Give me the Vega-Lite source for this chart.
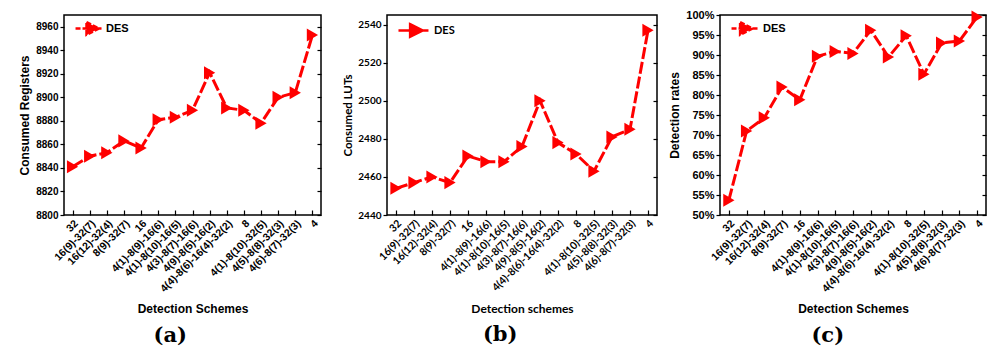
{
  "$schema": "https://vega.github.io/schema/vega-lite/v6.json",
  "padding": {"left": 18, "top": 8, "right": 4, "bottom": 0},
  "spacing": 9,
  "resolve": {"scale": {"color": "independent"}, "legend": {"color": "independent"}},
  "datasets": {
    "d": [
      {"s": "32", "reg": 8841, "lut": 2454, "rate": 0.537, "series": "DES"},
      {"s": "16(9)-32(7)", "reg": 8850, "lut": 2457, "rate": 0.71, "series": "DES"},
      {"s": "16(12)-32(4)", "reg": 8853, "lut": 2460, "rate": 0.743, "series": "DES"},
      {"s": "8(9)-32(7)", "reg": 8863, "lut": 2457, "rate": 0.82, "series": "DES"},
      {"s": "16", "reg": 8857, "lut": 2471, "rate": 0.788, "series": "DES"},
      {"s": "4(1)-8(9)-16(6)", "reg": 8881, "lut": 2468, "rate": 0.897, "series": "DES"},
      {"s": "4(1)-8(10)-16(5)", "reg": 8883, "lut": 2468, "rate": 0.909, "series": "DES"},
      {"s": "4(3)-8(7)-16(6)", "reg": 8889, "lut": 2476, "rate": 0.904, "series": "DES"},
      {"s": "4(9)-8(5)-16(2)", "reg": 8921, "lut": 2500, "rate": 0.962, "series": "DES"},
      {"s": "4(4)-8(6)-16(4)-32(2)", "reg": 8891, "lut": 2478, "rate": 0.895, "series": "DES"},
      {"s": "8", "reg": 8889, "lut": 2472, "rate": 0.948, "series": "DES"},
      {"s": "4(1)-8(10)-32(5)", "reg": 8878, "lut": 2463, "rate": 0.852, "series": "DES"},
      {"s": "4(5)-8(8)-32(3)", "reg": 8900, "lut": 2481, "rate": 0.93, "series": "DES"},
      {"s": "4(6)-8(7)-32(3)", "reg": 8904, "lut": 2485, "rate": 0.935, "series": "DES"},
      {"s": "4", "reg": 8953, "lut": 2537, "rate": 0.995, "series": "DES"}
    ]
  },
  "config": {
    "view": {"stroke": "black", "strokeWidth": 1.5},
    "axis": {"grid": false, "domainColor": "black", "domainWidth": 1.5, "tickColor": "black", "tickWidth": 1.2, "labelColor": "black", "titleColor": "black", "labelFontWeight": "bold", "titleFontWeight": "bold"},
    "title": {"font": "DejaVu Serif", "fontSize": 21, "fontWeight": "bold", "color": "black", "orient": "bottom", "offset": 10, "frame": "bounds", "anchor": "middle"},
    "legend": {"orient": "top-left", "offset": 4, "padding": 2, "title": null, "labelFontWeight": "bold", "labelColor": "black"}
  },
  "hconcat": [
    {
      "spacing": 19,
      "resolve": {"scale": {"color": "independent"}, "legend": {"color": "independent"}},
      "hconcat": [
        {
          "width": 257, "height": 200,
          "data": {"name": "d"},
          "title": {"text": "(a)"},
          "encoding": {
            "x": {"field": "s", "type": "ordinal", "sort": null, "scale": {"type": "point", "padding": 0.5},
                  "axis": {"title": "Detection Schemes", "labelAngle": -45, "labelFont": "Liberation Sans", "labelFontSize": 10.5, "titleFont": "Liberation Sans", "titleFontSize": 12, "tickSize": -5, "labelPadding": 8, "titlePadding": 10, "domain": false}},
            "y": {"field": "reg", "type": "quantitative", "scale": {"domain": [8800, 8970], "nice": false, "zero": false},
                  "axis": {"title": "Consumed Registers", "values": [8800, 8820, 8840, 8860, 8880, 8900, 8920, 8940, 8960], "format": "d", "labelFont": "Liberation Sans", "labelFontSize": 10, "titleFont": "Liberation Sans", "titleFontSize": 12, "tickSize": 4, "domain": false}},
            "color": {"field": "series", "type": "nominal", "scale": {"range": ["#ff0000"]},
                      "legend": {"labelFont": "Liberation Sans", "labelFontSize": 11, "symbolType": "M-0.33,0H4.0M1.5,-1.05L3.6,0L1.5,1.05Z", "symbolSize": 144, "labelOffset": 21, "offset": 4,
                                 "encode": {"symbols": {"update": {"fill": {"value": "#ff0000"}, "stroke": {"value": "#ff0000"}, "strokeWidth": {"value": 2.5}, "strokeDash": {"value": [5, 2]}}}}}}
          },
          "resolve": {"axis": {"y": "independent"}},
          "layer": [
            {"mark": {"type": "line", "strokeWidth": 3, "strokeDash": [12, 3]}},
            {"mark": {"type": "point", "shape": "triangle-right", "filled": true, "size": 170, "opacity": 1},
             "encoding": {"y": {"field": "reg", "type": "quantitative", "axis": {"orient": "right", "title": null, "labels": false, "values": [8800, 8820, 8840, 8860, 8880, 8900, 8920, 8940, 8960], "tickSize": -4, "domain": false}}}}
          ]
        },
        {
          "width": 270, "height": 200,
          "data": {"name": "d"},
          "title": {"text": "(b)"},
          "encoding": {
            "x": {"field": "s", "type": "ordinal", "sort": null, "scale": {"type": "point", "padding": 0.5},
                  "axis": {"title": "Detection schemes", "labelAngle": -45, "labelFont": "Lato", "labelFontSize": 10.5, "titleFont": "Lato", "titleFontSize": 12, "tickSize": -5, "labelPadding": 8, "titlePadding": 10, "domain": false}},
            "y": {"field": "lut", "type": "quantitative", "scale": {"domain": [2440, 2545], "nice": false, "zero": false},
                  "axis": {"title": "Consumed LUTs", "values": [2440, 2460, 2480, 2500, 2520, 2540], "format": "d", "labelFont": "Lato", "labelFontSize": 10, "titleFont": "Lato", "titleFontSize": 11.5, "tickSize": 4, "domain": false}},
            "color": {"field": "series", "type": "nominal", "scale": {"range": ["#ff0000"]},
                      "legend": {"labelFont": "Lato", "labelFontSize": 11, "symbolType": "M-0.67,0H4.33M1.27,-1.05L3.37,0L1.27,1.05Z", "symbolSize": 144, "labelOffset": 24, "offset": 6,
                                 "encode": {"symbols": {"update": {"fill": {"value": "#ff0000"}, "stroke": {"value": "#ff0000"}, "strokeWidth": {"value": 2.5}}}}}}
          },
          "resolve": {"axis": {"y": "independent"}},
          "layer": [
            {"mark": {"type": "line", "strokeWidth": 3, "strokeDash": [12, 3]}},
            {"mark": {"type": "point", "shape": "triangle-right", "filled": true, "size": 170, "opacity": 1},
             "encoding": {"y": {"field": "lut", "type": "quantitative", "axis": {"orient": "right", "title": null, "labels": false, "values": [2440, 2460, 2480, 2500, 2520, 2540], "tickSize": -4, "domain": false}}}}
          ]
        }
      ]
    },
    {
      "width": 266, "height": 200,
      "data": {"name": "d"},
      "title": {"text": "(c)"},
      "encoding": {
        "x": {"field": "s", "type": "ordinal", "sort": null, "scale": {"type": "point", "padding": 0.5},
              "axis": {"title": "Detection Schemes", "labelAngle": -45, "labelFont": "Liberation Sans", "labelFontSize": 10.5, "titleFont": "Liberation Sans", "titleFontSize": 12, "tickSize": -5, "labelPadding": 8, "titlePadding": 10, "domain": false}},
        "y": {"field": "rate", "type": "quantitative", "scale": {"domain": [0.5, 1.0], "nice": false, "zero": false},
              "axis": {"title": "Detection rates", "values": [0.5, 0.55, 0.6, 0.65, 0.7, 0.75, 0.8, 0.85, 0.9, 0.95, 1.0], "format": ".0%", "labelFont": "Liberation Sans", "labelFontSize": 11, "titleFont": "Liberation Sans", "titleFontSize": 12, "tickSize": 4, "domain": false}},
        "color": {"field": "series", "type": "nominal", "scale": {"range": ["#ff0000"]},
                  "legend": {"labelFont": "Liberation Sans", "labelFontSize": 11, "symbolType": "M-0.33,0H4.33M1.1,-1.05L3.2,0L1.1,1.05Z", "symbolSize": 144, "labelOffset": 22, "offset": 4,
                             "encode": {"symbols": {"update": {"fill": {"value": "#ff0000"}, "stroke": {"value": "#ff0000"}, "strokeWidth": {"value": 2.5}, "strokeDash": {"value": [5, 2]}}}}}}
      },
      "resolve": {"axis": {"y": "independent"}},
      "layer": [
        {"mark": {"type": "line", "strokeWidth": 3, "strokeDash": [12, 3]}},
        {"mark": {"type": "point", "shape": "triangle-right", "filled": true, "size": 170, "opacity": 1},
         "encoding": {"y": {"field": "rate", "type": "quantitative", "axis": {"orient": "right", "title": null, "labels": false, "values": [0.5, 0.55, 0.6, 0.65, 0.7, 0.75, 0.8, 0.85, 0.9, 0.95, 1.0], "tickSize": -4, "domain": false}}}}
      ]
    }
  ]
}
